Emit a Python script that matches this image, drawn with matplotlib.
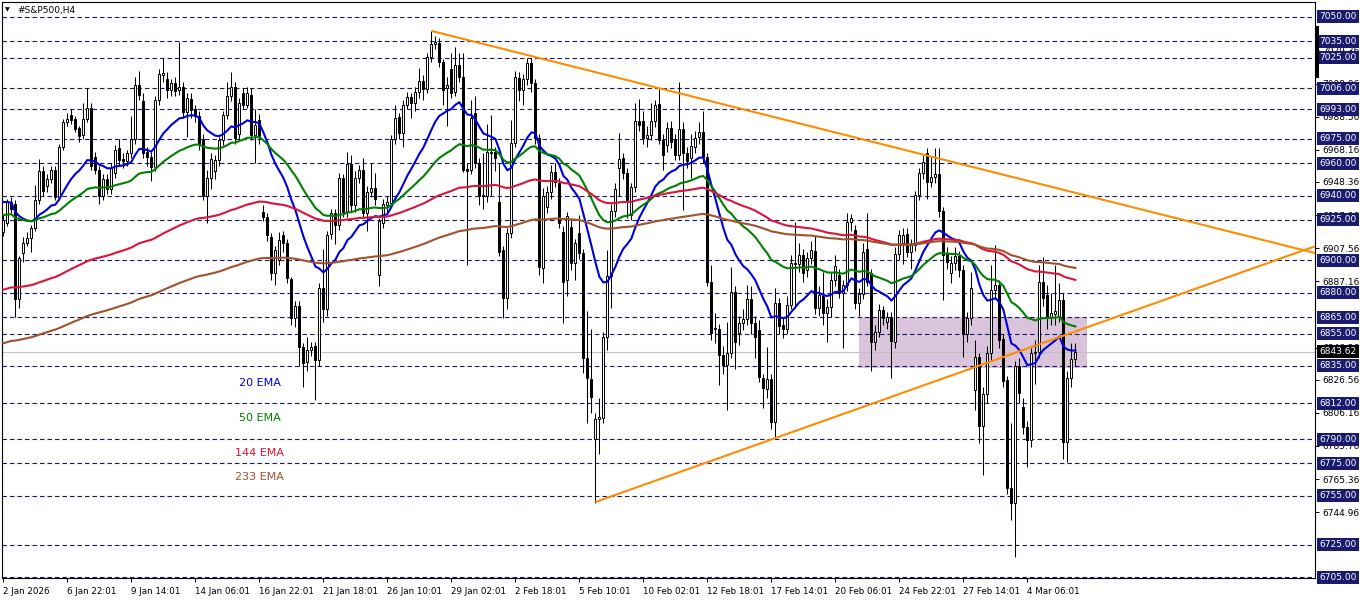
import numpy as np
import matplotlib
matplotlib.use("Agg")
import matplotlib.pyplot as plt
from matplotlib.patches import Rectangle
from matplotlib.transforms import blended_transform_factory

plt.rcParams['font.family'] = ['DejaVu Sans']
plt.rcParams['lines.scale_dashes'] = False

# ---------------- DATA (S&P500, H4 bars) ----------------
opens = [
    6917.5, 6923, 6936, 6935, 6876, 6904.5, 6911, 6914, 6920, 6937,
    6955, 6946, 6950, 6955.7, 6939, 6970, 6985, 6989.6, 6987, 6981.6,
    6977, 6987, 6994, 6964, 6956, 6940, 6950, 6944, 6954, 6969,
    6962.5, 6961, 6966, 6975, 7008, 6998, 6966.8, 6964, 6957.6, 6999,
    7014, 7012, 7005, 7009, 7005, 7007, 6991.5, 6999.5, 6993, 6989,
    6975, 6940, 6951, 6955, 6962, 6974, 6989.6, 7001, 7007, 6978,
    7003, 6996, 7002, 6977, 6986.5, 6930, 6927, 6914.5, 6892, 6900,
    6915.7, 6911, 6888.6, 6864.6, 6872, 6846.7, 6837.5, 6844.8, 6847, 6838.7,
    6883, 6870, 6916, 6929, 6922, 6951, 6930, 6959.4, 6934, 6951,
    6956, 6929, 6942, 6944.6, 6891, 6923, 6934, 6935.4, 6974.8, 6988.4,
    6978.5, 6995.8, 7000.7, 6997, 7003.8, 7010.6, 7005.6, 7025.4, 7033.4, 7034,
    7022.3, 7006, 7018, 7003.8, 7020.4, 7013, 6956.4, 6955.7, 6991, 6960,
    6940.3, 6939.7, 6966.2, 6966.8, 6936, 6906.4, 6876.9, 6916.9, 6972.4, 7012.4,
    7005, 7011.8, 7021.7, 7009.3, 6975.5, 6895.4, 6933, 6942.2, 6954.5, 6948,
    6917.5, 6888, 6920.6, 6898.4, 6916.9, 6904.6, 6840, 6827, 6790, 6802.3,
    6803, 6852.9, 6890.4, 6930.5, 6957, 6963, 6953.9, 6928, 6945.3, 6986,
    6986, 6975.5, 6977.3, 6986, 6996.4, 6974.2, 6971, 6981.6, 6975, 6965,
    6981, 6966.2, 6963, 6970, 6976, 6979, 6963.7, 6886.7, 6858.4, 6857.8,
    6842, 6835.6, 6843, 6880.6, 6855.3, 6861.5, 6864, 6876.3, 6861.5, 6857.2,
    6827.6, 6821, 6827, 6800.5, 6873.8, 6860, 6858, 6872.6, 6897.8, 6898,
    6903.4, 6894, 6901.5, 6906, 6870.7, 6878, 6867.6, 6871.3, 6888, 6891,
    6880, 6884.9, 6923.7, 6918.8, 6873.8, 6879.3, 6907, 6892, 6849.8, 6856,
    6869.5, 6862, 6865.2, 6850, 6904, 6910.8, 6916.3, 6905.2, 6909.5, 6940.3,
    6953.9, 6966.2, 6948.3, 6951.4, 6953.3, 6930.5, 6904.6, 6892.3, 6898.4, 6902.8,
    6894.1, 6854.7, 6864.6, 6820.2, 6840.5, 6798, 6817.7, 6843, 6881.8, 6885,
    6851.6, 6826.4, 6759.8, 6750.6, 6835, 6810, 6797.4, 6789.4, 6843, 6843.6,
    6886.7, 6879, 6865.2, 6867, 6865, 6875.6, 6788.2, 6827.6, 6839.3,
]
highs = [
    6928, 6938, 6939, 6937, 6903, 6914.5, 6917.5, 6922, 6946.5, 6962.5,
    6958, 6953, 6958, 6958, 6972, 6987, 6991, 6993.5, 6989, 6983,
    6997, 7006, 6997, 6967, 6958, 6953, 6953, 6960, 6971, 6975,
    6966, 6968, 6989, 7013, 7017, 7003, 6970, 6967, 7001, 7018,
    7025, 7016, 7012, 7013, 7034.6, 7010, 7003, 7003, 6996, 6992,
    6978, 6956, 6966, 6965, 6976, 6992, 7010, 7016, 7010, 7000,
    7006, 7007, 7006, 6993, 6990, 6934, 6929, 6917, 6909, 6917.5,
    6918, 6913, 6890, 6875, 6875, 6849, 6853, 6850, 6850, 6886,
    6907, 6918, 6932, 6932, 6954, 6953, 6966.8, 6965, 6955, 6959,
    6963, 6946, 6960, 6954, 6926, 6938, 6940, 6977, 6996, 6991,
    6999, 7004, 7003, 7007, 7018.6, 7014, 7028, 7041.4, 7038.3, 7037,
    7024, 7013, 7028, 7031.5, 7028, 7028, 6960, 6999, 7001, 6963,
    6966, 6984, 6989.6, 6970, 6960, 6909, 6920, 6986.5, 7017, 7016,
    7015, 7025, 7024.7, 7012, 6978, 6944.6, 6946, 6959, 6960, 6951,
    6921, 6930, 6926, 6913, 6928, 6907, 6869, 6858, 6806, 6815,
    6856, 6906.4, 6935, 6948, 6978.5, 6966, 6957, 6948, 6997, 6999.5,
    6992, 6983, 6997, 6999, 7005.6, 6978, 6985, 6986, 6978, 7010,
    6985, 6970, 6978, 6980, 6985, 6992, 6966, 6897, 6867.6, 6861,
    6847, 6862, 6896, 6884, 6866, 6870, 6885, 6884, 6866, 6863.3,
    6830, 6846.7, 6830, 6883, 6877, 6865, 6878, 6903.4, 6923.7, 6910.8,
    6907, 6905, 6912, 6915, 6884, 6893, 6876, 6892, 6903.4, 6895,
    6888, 6929, 6928.6, 6922, 6883, 6910.8, 6929, 6895, 6860, 6873,
    6872, 6868, 6868, 6908, 6919, 6920, 6920, 6913, 6943, 6957,
    6965, 6969, 6963.7, 6969, 6969, 6933, 6908, 6903, 6908.3, 6906,
    6897, 6868, 6893, 6851, 6843, 6822, 6847, 6897.2, 6909.5, 6888,
    6855, 6829, 6800, 6838, 6840, 6815, 6801, 6846, 6851, 6897,
    6902, 6885, 6880, 6897, 6886, 6880, 6832, 6849, 6849,
]
lows = [
    6915, 6921, 6929, 6865, 6871, 6899, 6909, 6905, 6918, 6935,
    6940, 6942, 6948, 6937, 6937, 6968, 6983, 6984, 6979, 6973,
    6975, 6985, 6956, 6953, 6935, 6937, 6941, 6941, 6951, 6958,
    6957, 6958, 6963, 6972, 6999, 6963, 6958, 6949, 6955, 6996,
    7010, 7000, 7001, 7001, 7002, 6988, 6976, 6988, 6985, 6968,
    6937, 6923, 6944, 6950, 6958, 6971, 6987, 6998, 6972, 6974,
    6993, 6994, 6974, 6960, 6972, 6924, 6912, 6888, 6885, 6897,
    6905, 6886, 6860, 6859, 6835, 6822, 6832, 6841, 6814, 6835,
    6862, 6866, 6913, 6910, 6919, 6927, 6927, 6930, 6930, 6948,
    6926, 6918, 6939, 6934, 6884, 6920, 6930, 6933, 6972, 6975,
    6970, 6993, 6988, 6992, 7000, 6999, 7003, 7022, 7030, 7019,
    6996, 6983, 7000, 7001, 7010, 6954.5, 6897.2, 6953, 6957, 6934,
    6932, 6936, 6940, 6955, 6903, 6864.6, 6870, 6914, 6970, 6998,
    6996, 7008, 7004, 6972, 6891, 6886, 6929, 6938, 6945, 6920,
    6861.5, 6878, 6894, 6888, 6901, 6830.7, 6799.9, 6806, 6750.6, 6781,
    6800, 6845, 6871, 6927, 6940, 6950, 6926, 6925, 6942, 6980,
    6972, 6970, 6974, 6982, 6972, 6956, 6967, 6969, 6962, 6962,
    6931, 6957, 6951, 6966, 6972, 6960, 6884, 6851, 6849, 6823,
    6830, 6807.9, 6840, 6833, 6848, 6857, 6860, 6855, 6840, 6825,
    6809, 6815, 6796, 6790.6, 6855, 6852, 6855, 6870, 6871, 6893,
    6887, 6890, 6898, 6867, 6866, 6860, 6850, 6865, 6884, 6877,
    6846, 6881, 6918, 6870, 6866, 6876, 6884, 6832, 6845, 6853,
    6860, 6858, 6827.6, 6846, 6900, 6898, 6902, 6895, 6906, 6937,
    6950, 6938, 6945, 6948, 6927, 6875.6, 6895, 6886, 6894, 6890,
    6840.5, 6850, 6860, 6807.9, 6787.5, 6767.8, 6812, 6838, 6876, 6846,
    6822, 6756, 6740, 6717.3, 6812, 6793, 6772.8, 6785, 6824, 6840,
    6872, 6858, 6860, 6860, 6862, 6778, 6775.8, 6822, 6835,
]
closes = [
    6925, 6936, 6932, 6876, 6901.5, 6911, 6914, 6920, 6937, 6955,
    6943, 6950, 6955.7, 6939, 6970, 6985, 6987, 6986.5, 6981, 6976.7,
    6987, 6994, 6958, 6956, 6940, 6950, 6944, 6957, 6968, 6962,
    6961, 6966, 6975, 7008, 7002, 6966, 6963.7, 6957.6, 6999, 7015,
    7015.5, 7005, 7009, 7004.4, 7007, 6991.5, 7000, 6992.7, 6989, 6972,
    6940, 6951, 6962.5, 6962, 6974, 6989.6, 7001, 7007, 6975.5, 6997,
    6996, 7003, 6977, 6983.5, 6976.7, 6927, 6915.7, 6892, 6906.4, 6912.6,
    6910.8, 6889, 6864.6, 6872, 6846.7, 6836.8, 6844.8, 6846.7, 6838.7, 6883,
    6870, 6915.7, 6929, 6922, 6951, 6930, 6959.4, 6934, 6951, 6956,
    6929, 6942, 6944.6, 6938, 6924, 6935, 6936, 6974.8, 6987.8, 6978.5,
    6995.8, 7000.7, 6997, 7003.8, 7010.6, 7005.6, 7025.4, 7033.4, 7034.6, 7022.3,
    7005, 7008, 7003, 7020.4, 7013, 6955.7, 6955, 6987.8, 6960, 6939.7,
    6939.7, 6966.8, 6966.8, 6963, 6905.2, 6876.9, 6916.9, 6972.4, 7013, 7005,
    7011.8, 7021.7, 7009.3, 6975.5, 6896, 6939.7, 6942.2, 6954.5, 6948.3, 6923,
    6886.7, 6927.4, 6898.4, 6910.8, 6904.6, 6840, 6827.6, 6815.9, 6802.3, 6803.6,
    6852.9, 6890.4, 6930.5, 6944, 6962.5, 6953.9, 6937.3, 6945.3, 6986, 6983.5,
    6975.5, 6977.3, 6986, 6995.8, 6974.2, 6965, 6981.6, 6973, 6965, 6981,
    6966.2, 6961.3, 6970.5, 6975.5, 6979, 6963.7, 6886.7, 6855.3, 6857.8, 6841.8,
    6835.6, 6843, 6880.6, 6849.8, 6861.5, 6864, 6876.3, 6861.5, 6852.9, 6828.2,
    6821.4, 6827, 6800.5, 6873.8, 6859.6, 6858, 6872.6, 6898.4, 6898.4, 6903.4,
    6892.3, 6901.5, 6906.4, 6870.7, 6878.7, 6867.6, 6871.3, 6888, 6896.6, 6880,
    6884.9, 6923.7, 6926.2, 6873.8, 6879.3, 6905.2, 6886.7, 6849.8, 6856, 6869.5,
    6864.6, 6865.2, 6850.4, 6904, 6915.7, 6915.7, 6905.2, 6909.5, 6940.3, 6953.9,
    6960.7, 6948.3, 6951.4, 6953.3, 6930.5, 6903.4, 6899, 6898.4, 6902.8, 6894.1,
    6854.7, 6864.6, 6883, 6840.5, 6798, 6817.7, 6843, 6881.8, 6885, 6851,
    6825.7, 6759.8, 6750.6, 6835, 6818.4, 6797.4, 6789.4, 6843, 6843.6, 6886.7,
    6876.9, 6865.2, 6867.6, 6869, 6875.6, 6788.2, 6827.6, 6839.3, 6843.62,
]

# EMA settings: period, value at the first bar, colour, label
ema_periods = [20, 50, 144, 233]
ema_start = [6936, 6928, 6882, 6849]
ema_colors = ["#0000dd", "#008000", "#dc143c", "#a0522d"]
ema_names = ["20 EMA", "50 EMA", "144 EMA", "233 EMA"]
ema_label_pos = [(59, 6824.5), (59, 6803), (58, 6781.5), (58, 6766.5)]

# drawn objects
levels = [7050, 7035, 7025, 7006, 6993, 6975, 6960, 6940, 6925, 6900,
          6880, 6865, 6855, 6835, 6812, 6790, 6775, 6755, 6725, 6705]
scale_ticks = [7029.36, 7008.96, 6988.56, 6968.16, 6948.36, 6927.96, 6907.56,
               6887.16, 6846.36, 6826.56, 6806.16, 6785.76, 6765.36, 6744.96]
bid = 6843.62
upper_line = [(107, 7041.4), (230, 6965.2)]
lower_line = [(148, 6751.2), (259, 6848.4)]
zone_bars = (213.8, 270.9)
zone_prices = (6833.8, 6865.2)

date_labels = ["2 Jan 2026", "6 Jan 22:01", "9 Jan 14:01", "14 Jan 06:01",
               "16 Jan 22:01", "21 Jan 18:01", "26 Jan 10:01", "29 Jan 02:01",
               "2 Feb 18:01", "5 Feb 10:01", "10 Feb 02:01", "12 Feb 18:01",
               "17 Feb 14:01", "20 Feb 06:01", "24 Feb 22:01", "27 Feb 14:01",
               "4 Mar 06:01"]
date_bars = [16 * i for i in range(len(date_labels))]


def ema(values, period, start):
    a = 2.0 / (period + 1)
    out = [start]
    for v in values[1:]:
        out.append(out[-1] + a * (v - out[-1]))
    return np.array(out)


# ---------------- FIGURE ----------------
W, H = 1362, 603
fig = plt.figure(figsize=(W / 100, H / 100), dpi=100)
ax = fig.add_axes([2 / W, 1 - 578 / H, (1315 - 2) / W, (578 - 2) / H])
ax.set_xlim(-0.33, 327.9)
ax.set_ylim(6704.4, 7059.2)

o = np.array(opens); h = np.array(highs); l = np.array(lows); c = np.array(closes)
x = np.arange(len(c))

# zone rectangle (background)
ax.add_patch(Rectangle((zone_bars[0], zone_prices[0]), zone_bars[1] - zone_bars[0],
                       zone_prices[1] - zone_prices[0], facecolor="#d9c4dc",
                       edgecolor="none", zorder=0))

# dashed horizontal levels
for lv in levels:
    ax.axhline(lv, color="#16166b", lw=0.8, ls=(0, (3.2, 2.2)), zorder=1)
ax.axhline(bid, color="#c0c0c0", lw=0.8, zorder=1)

# candles
up = c >= o
ax.vlines(x, np.minimum(l, np.minimum(o, c)), np.maximum(h, np.maximum(o, c)),
          color="black", lw=0.75, zorder=3)
body = np.maximum(np.abs(c - o), 0.4)
ax.bar(x, body, bottom=np.minimum(o, c), width=0.52,
       color=np.where(up, "white", "black"), edgecolor="black",
       linewidth=0.7, zorder=4)

# EMAs
for per, st, col in zip(ema_periods, ema_start, ema_colors):
    ax.plot(x, ema(closes, per, st), color=col, lw=1.5, zorder=5)

for name, col, (bx, py) in zip(ema_names, ema_colors, ema_label_pos):
    ax.text(bx, py, name, color=col, fontsize=8, va="center", ha="left", zorder=6)

# triangle trend lines (rays to the right edge)
x_end = ax.get_xlim()[1]
for (x1, y1), (x2, y2) in [upper_line, lower_line]:
    slope = (y2 - y1) / (x2 - x1)
    ax.plot([x1, x_end], [y1, y1 + slope * (x_end - x1)], color="#ff8c00",
            lw=1.5, zorder=6, solid_capstyle="butt")

# axes styling
for sp in ax.spines.values():
    sp.set_color("black")
    sp.set_linewidth(0.8)
ax.yaxis.tick_right()
ax.set_yticks(scale_ticks)
ax.set_yticklabels([f"{v:.2f}" for v in scale_ticks])
ax.tick_params(axis="y", direction="out", length=3, width=0.7, labelsize=6.5, pad=2.5)
ax.set_xticks(date_bars)
ax.set_xticklabels(date_labels, ha="left")
ax.tick_params(axis="x", direction="out", length=3, width=0.7, labelsize=6.3, pad=3.5)

# price labels of the levels on the right scale
tr = blended_transform_factory(fig.transFigure, ax.transData)
box_h = 13 * 345 / 560
for lv in levels + [bid]:
    fc = "black" if lv == bid else "#1a1a6e"
    ax.add_patch(Rectangle((1317 / W, lv - box_h / 2), 42 / W, box_h, transform=tr,
                           facecolor=fc, edgecolor="none", clip_on=False, zorder=10))
    txt = f"{lv:.2f}"
    ax.text(1338 / W, lv, txt, transform=tr, color="white", fontsize=6.5,
            ha="center", va="center", clip_on=False, zorder=11)

# small black marker on the scale
fig.add_artist(Rectangle((1316 / W, 1 - 78 / H), 3 / W, 52 / H,
                         transform=fig.transFigure, facecolor="black", edgecolor="none"))

# title
fig.text(7 / W, 1 - 10 / H, "\u25bc", fontsize=4.5, ha="center", va="center")
fig.text(17 / W, 1 - 10 / H, "#S&P500,H4", fontsize=6.5, ha="left", va="center")

fig.savefig("out.png", dpi=100)
